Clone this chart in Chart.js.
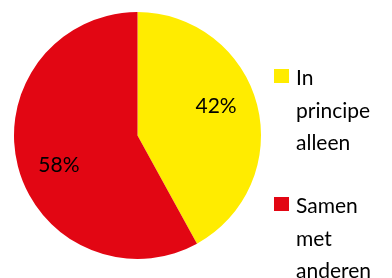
<!DOCTYPE html>
<html>
<head>
<meta charset="utf-8">
<script src="https://cdn.jsdelivr.net/npm/chart.js@4/dist/chart.umd.min.js"></script>
<style>
  html, body { margin: 0; padding: 0; background: #fff; }
  #wrap { position: relative; width: 392px; height: 278px; overflow: hidden; }
  #chartPie { position: absolute; left: 0; top: 0; }
  .legend-item { position: absolute; left: 274px; font-family: Lato, 'Liberation Sans', sans-serif;
    font-size: 21px; line-height: 32.5px; color: #000; }
  .legend-box { position: absolute; left: 0; top: 8px; width: 15px; height: 14px; }
  .legend-text { margin-left: 22px; width: 110px; }
</style>
</head>
<body>
<div id="wrap">
  <canvas id="chartPie" width="392" height="278"></canvas>
  <div id="legend"></div>
</div>
<script>
/* ── categories & values ── */
const LABELS = [['In', 'principe', 'alleen'], ['Samen', 'met', 'anderen']];
const VALUES = [42, 58];
const COLORS = ['#FFEC00', '#E20613'];
const LEGEND_TOP = [61, 189];

// percentages written inside the slices (slightly turned back, like Excel does)
const sliceLabels = {
  id: 'sliceLabels',
  afterDatasetsDraw(chart) {
    const ctx = chart.ctx;
    const meta = chart.getDatasetMeta(0);
    ctx.save();
    ctx.font = '21px Lato, "Liberation Sans", sans-serif';
    ctx.fillStyle = '#000';
    ctx.textAlign = 'center';
    ctx.textBaseline = 'middle';
    meta.data.forEach((arc, i) => {
      const p = arc.getProps(['x', 'y', 'startAngle', 'endAngle', 'outerRadius'], true);
      const mid = (p.startAngle + p.endAngle) / 2 - 0.11;
      const r = p.outerRadius * 0.68;
      ctx.fillText(VALUES[i] + '%', p.x + Math.cos(mid) * r, p.y + Math.sin(mid) * r);
    });
    ctx.restore();
  }
};

new Chart(document.getElementById('chartPie'), {
  type: 'pie',
  data: {
    labels: LABELS.map(l => l.join(' ')),
    datasets: [{ data: VALUES, backgroundColor: COLORS, borderWidth: 0 }]
  },
  options: {
    responsive: false,
    animation: false,
    layout: { padding: { left: 14, right: 131, top: 12, bottom: 19 } },
    plugins: { legend: { display: false }, tooltip: { enabled: false } }
  },
  plugins: [sliceLabels]
});

document.getElementById('legend').innerHTML = LABELS.map((l, i) =>
  `<div class="legend-item" style="top:${LEGEND_TOP[i]}px">
     <span class="legend-box" style="background:${COLORS[i]}"></span>
     <div class="legend-text">${l.join('<br>')}</div>
   </div>`
).join('');
</script>
</body>
</html>
